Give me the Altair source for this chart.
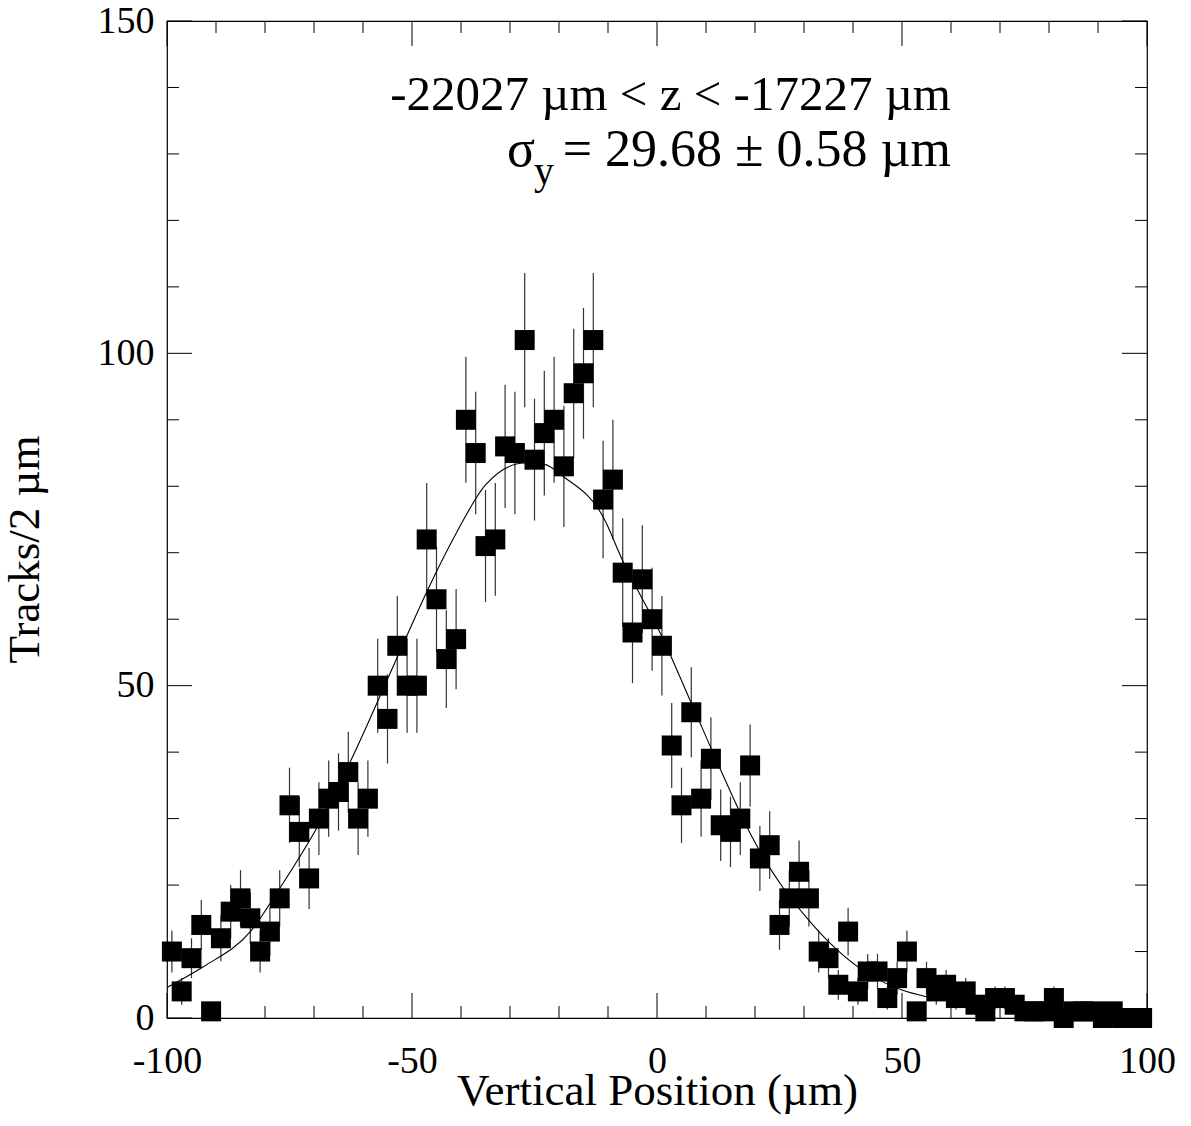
import altair as alt
import pandas as pd

# ---- data ----
bin_centers = list(range(-99, 100, 2))
counts = [10, 4, 9, 14, 1, 12, 16, 18, 15, 10,
          13, 18, 32, 28, 21, 30, 33, 34, 37, 30,
          33, 50, 45, 56, 50, 50, 72, 63, 54, 57,
          90, 85, 71, 72, 86, 85, 102, 84, 88, 90,
          83, 94, 97, 102, 78, 81, 67, 58, 66, 60,
          56, 41, 32, 46, 33, 39, 29, 28, 30, 38,
          24, 26, 14, 18, 22, 18, 10, 9, 5, 13,
          4, 7, 7, 3, 6, 10, 1, 6, 4, 5,
          3, 4, 2, 1, 3, 3, 2, 1, 1, 1,
          3, 0, 1, 1, 1, 0, 1, 0, 0, 0]
assert len(counts) == len(bin_centers)

fit_x = [-100, -92.6, -83, -77, -69.5, -62.5, -54.8, -51, -47, -41, -35, -27,
         -23, -19, -11, -7, 1, 7, 13, 19, 26, 31, 35, 41, 50, 55, 65, 80, 100]
fit_y = [4.6, 7.7, 13.0, 19.5, 28.5, 38.7, 51.3, 57.6, 64.1, 72.9, 80.2, 83.5,
         83.3, 81.4, 75.4, 68.8, 57.4, 47.4, 37.3, 27.8, 19.3, 14.7, 11.5, 7.7,
         4.2, 3.2, 2.2, 1.3, 1.0]

x_major = [-100, -50, 0, 50, 100]
x_minor = [-90, -80, -70, -60, -40, -30, -20, -10, 10, 20, 30, 40, 60, 70, 80, 90]
y_major = [0, 50, 100, 150]
y_minor = [10, 20, 30, 40, 60, 70, 80, 90, 110, 120, 130, 140]

line1 = "-22027 µm < z < -17227 µm"
line2 = "= 29.68 ± 0.58 µm"
sigma = "σ"
sub = "y"
x_title = "Vertical Position (µm)"
y_title = "Tracks/2 µm"

# ---- layout ----
W, H = 980, 997
FONT = "Liberation Serif"
MAJ, MIN = 25, 12

xs = alt.Scale(domain=[-100, 100], nice=False, zero=False)
ys = alt.Scale(domain=[0, 150], nice=False, zero=False)

X_AXIS = alt.Axis(values=x_major, labelExpr="datum.value + ''", title=x_title,
                  domain=False, grid=False, ticks=False, tickSize=0,
                  labelFlush=False, labelOverlap=False, labelPadding=54,
                  labelBaseline="alphabetic", labelFont=FONT, labelFontSize=38,
                  labelColor="black", titleFont=FONT, titleFontSize=45,
                  titleFontWeight="normal", titleColor="black",
                  titleX=W / 2, titleY=86, titleAlign="center",
                  titleBaseline="alphabetic")
Y_AXIS = alt.Axis(values=y_major, labelExpr="datum.value + ''", title=y_title,
                  domain=False, grid=False, ticks=False, tickSize=0,
                  labelFlush=False, labelOverlap=False, labelPadding=13,
                  labelBaseline="middle", labelFont=FONT, labelFontSize=38,
                  labelColor="black", titleFont=FONT, titleFontSize=45,
                  titleFontWeight="normal", titleColor="black",
                  titleAngle=270, titleX=-129, titleY=528, titleAlign="center",
                  titleBaseline="alphabetic")

hist = pd.DataFrame({"x": bin_centers, "n": counts})
fit = pd.DataFrame({"x": fit_x, "y": fit_y})

base = alt.Chart(hist).transform_calculate(
    lo="datum.n - sqrt(datum.n)", hi="datum.n + sqrt(datum.n)")

errors = base.mark_rule(color="#333333", strokeWidth=1.2).encode(
    x=alt.X("x:Q", scale=xs, axis=X_AXIS),
    y=alt.Y("lo:Q", scale=ys, axis=Y_AXIS),
    y2="hi:Q")

fit_line = alt.Chart(fit).mark_line(color="black", strokeWidth=1.1,
                                    interpolate="monotone").encode(
    x=alt.X("x:Q", scale=xs, axis=X_AXIS),
    y=alt.Y("y:Q", scale=ys, axis=Y_AXIS))

squares = alt.Chart(hist).mark_square(size=400, color="black", opacity=1,
                                      clip=False).encode(
    x=alt.X("x:Q", scale=xs, axis=X_AXIS),
    y=alt.Y("n:Q", scale=ys, axis=Y_AXIS))


def xticks(vals, length):
    d = pd.DataFrame({"v": vals})
    bot = alt.Chart(d).mark_rule(color="black", strokeWidth=1).encode(
        x=alt.X("v:Q", scale=xs, axis=X_AXIS),
        y=alt.value(H), y2=alt.value(H - length))
    top = alt.Chart(d).mark_rule(color="black", strokeWidth=1).encode(
        x=alt.X("v:Q", scale=xs, axis=X_AXIS),
        y=alt.value(0), y2=alt.value(length))
    return [bot, top]


def yticks(vals, length):
    d = pd.DataFrame({"v": vals})
    left = alt.Chart(d).mark_rule(color="black", strokeWidth=1).encode(
        y=alt.Y("v:Q", scale=ys, axis=Y_AXIS),
        x=alt.value(0), x2=alt.value(length))
    right = alt.Chart(d).mark_rule(color="black", strokeWidth=1).encode(
        y=alt.Y("v:Q", scale=ys, axis=Y_AXIS),
        x=alt.value(W), x2=alt.value(W - length))
    return [left, right]


def label(text, x, y, size, align):
    return alt.Chart(pd.DataFrame({"t": [text]})).mark_text(
        font=FONT, fontSize=size, align=align, baseline="alphabetic",
        color="black").encode(x=alt.value(x), y=alt.value(y), text="t:N")


texts = [
    label(line1, 784, 89, 49, "right"),
    label(line2, 784, 145, 52, "right"),
    label(sigma, 340, 145, 52, "left"),
    label(sub, 367, 163, 40, "left"),
]

layers = ([errors, fit_line, squares]
          + xticks(x_major, MAJ) + xticks(x_minor, MIN)
          + yticks(y_major, MAJ) + yticks(y_minor, MIN)
          + texts)

chart = alt.layer(*layers).properties(
    width=W, height=H,
    autosize=alt.AutoSizeParams(type="none"),
    padding={"left": 167, "top": 21, "right": 44, "bottom": 108},
    background="white",
).configure_view(stroke="black", strokeWidth=1.2)

chart.save("out.html", embed_options={"renderer": "svg", "actions": False})
